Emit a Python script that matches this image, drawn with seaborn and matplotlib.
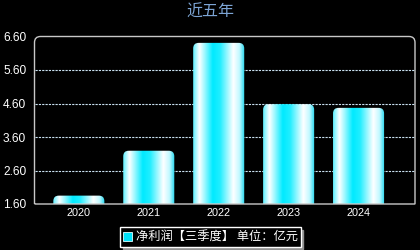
import numpy as np
import pandas as pd
import seaborn as sns
import matplotlib
matplotlib.use("Agg")
import matplotlib.pyplot as plt
from matplotlib.patches import FancyBboxPatch, PathPatch, Patch
from matplotlib.path import Path
from matplotlib.colors import to_rgb

years = ["2020", "2021", "2022", "2023", "2024"]
profit = [1.85, 3.19, 6.41, 4.58, 4.47]
yticks = [1.60, 2.60, 3.60, 4.60, 5.60, 6.60]
title = "近五年"
legend_label = "净利润【三季度】 单位：亿元"

sns.set_theme(style="white")
plt.rcParams["font.family"] = ["Liberation Sans", "Noto Sans CJK SC", "DejaVu Sans"]

fig = plt.figure(figsize=(4.2, 2.5), dpi=100, facecolor="black")
ax = fig.add_axes([34.5 / 420, 1 - 204 / 250, (415 - 34.5) / 420, (204 - 36.5) / 250])
ax.set_facecolor("black")

df = pd.DataFrame({"year": years, "value": profit})
sns.barplot(data=df, x="year", y="value", ax=ax, width=0.73, color="#00e8ff", zorder=3)

ax.set_ylim(1.6, 6.6)
ax.set_xlim(-0.634, 4.807)
ax.set_yticks(yticks)
ax.set_yticklabels([f"{v:.2f}" for v in yticks], color="white", fontsize=8.6)
ax.tick_params(axis="x", colors="white", labelsize=7.8, length=0, pad=3)
ax.tick_params(axis="y", length=0, pad=6)
ax.set_xlabel("")
ax.set_ylabel("")

# grid
for v in yticks[1:-1]:
    ax.axhline(v, color="#c8e0f0", lw=0.8, ls=(0, (2, 1)), zorder=1)

for s in ax.spines.values():
    s.set_visible(False)

# gradient bars
stops = [(0.0, "#60f0ff"), (0.12, "#ffffff"), (0.22, "#a0f8ff"), (0.38, "#00eaff"),
         (0.52, "#20eeff"), (0.78, "#ffffff"), (0.9, "#c0f8ff"), (1.0, "#20d8f0")]
N = 100
xs = np.linspace(0, 1, N)
pos = [p for p, _ in stops]
cols = np.array([to_rgb(c) for _, c in stops])
grad = np.stack([np.interp(xs, pos, cols[:, i]) for i in range(3)], axis=-1)[None, :, :]

px_per_x = 70.0
px_per_y = 33.4
aspect = (1 / px_per_y) / (1 / px_per_x)
r = 5.5 / px_per_x
for p in list(ax.patches):
    x0, w, h = p.get_x(), p.get_width(), p.get_height()
    y0 = p.get_y()
    p.set_visible(False)
    clip = FancyBboxPatch((x0, y0), w, h, boxstyle=f"round,pad=0,rounding_size={r}",
                          mutation_aspect=aspect, facecolor="none", edgecolor="none",
                          transform=ax.transData)
    ax.add_patch(clip)
    im = ax.imshow(grad, extent=[x0, x0 + w, 1.6, y0 + h], aspect="auto",
                   interpolation="bilinear", zorder=3)
    im.set_clip_path(clip)

ax.set_xlim(-0.634, 4.807)
ax.set_ylim(1.6, 6.6)

# frame with rounded top corners
rx = 6 / 380.5
ry = 6 / 167.5
verts = [(0, 0), (0, 1 - ry), (0, 1), (rx, 1), (1 - rx, 1), (1, 1), (1, 1 - ry), (1, 0), (0, 0)]
codes = [Path.MOVETO, Path.LINETO, Path.CURVE3, Path.CURVE3, Path.LINETO, Path.CURVE3,
         Path.CURVE3, Path.LINETO, Path.LINETO]
ax.add_patch(PathPatch(Path(verts, codes), fill=False, edgecolor="#c8c8c8", lw=1.0,
                       transform=ax.transAxes, clip_on=False, zorder=5))

fig.text(0.5, 1 - 12.5 / 250, title, ha="center", va="center", color="#7ca4d4",
         fontsize=11.5, family=["Noto Sans CJK SC"])

handle = Patch(facecolor="#00e0f8", edgecolor="#e0ffff", lw=0.6)
leg = fig.legend(handles=[handle], labels=[legend_label], loc="center",
                 bbox_to_anchor=(210.5 / 420, 1 - 237 / 250), frameon=True, fancybox=False,
                 shadow={"color": "#909090", "alpha": 1}, facecolor="black", edgecolor="white",
                 handlelength=0.7, handleheight=0.7, handletextpad=0.3, borderpad=0.25,
                 borderaxespad=0, prop={"family": ["Noto Sans CJK SC"], "size": 8.8})
for t in leg.get_texts():
    t.set_color("white")
leg.get_frame().set_linewidth(1.0)

fig.savefig("out.png", dpi=100, facecolor="black")
